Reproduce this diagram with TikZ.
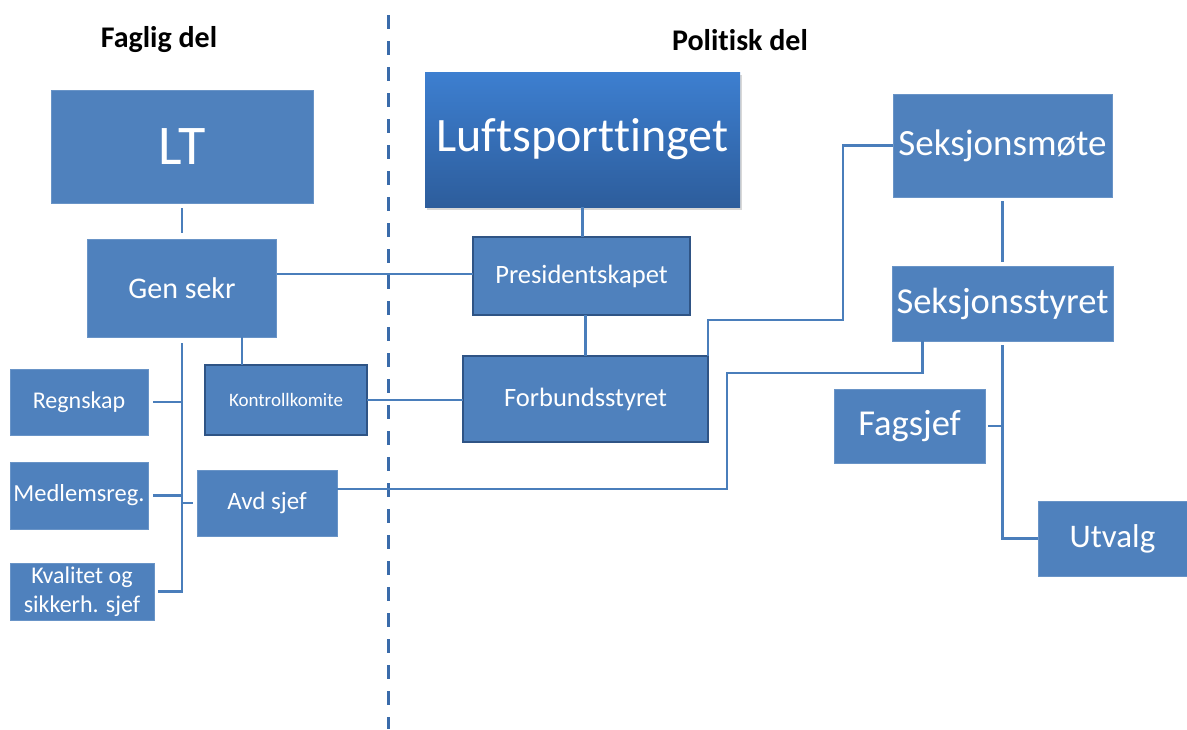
\documentclass[tikz,border=0pt]{standalone}
\usepackage{fontspec}
\setmainfont{Carlito}[Ligatures=NoCommon]
\usetikzlibrary{shadows,calc}
\definecolor{boxblue}{HTML}{4F81BD}
\definecolor{boxedge}{HTML}{2F5485}
\definecolor{linkblue}{HTML}{4A7EBB}
\definecolor{gradtop}{HTML}{3D7FD0}
\definecolor{gradbot}{HTML}{2D5D9C}
\definecolor{dashblue}{HTML}{3A6BAA}
\tikzset{
  box/.style={rectangle, fill=boxblue, draw=boxblue!85!white, line width=0.8pt, text=white, inner sep=0pt, outer sep=0pt, align=center},
  edgebox/.style={box, draw=boxedge, line width=2pt},
  conn/.style={draw=linkblue, line width=2.8pt},
  title/.style={font=\bfseries\fontsize{30}{34}\selectfont, text=black},
  divider/.style={draw=dashblue, line width=3pt, dash pattern=on 14pt off 12pt}
}
\begin{document}
\begin{tikzpicture}[x=1pt,y=-1pt]
\fill[white] (0,0) rectangle (1187,729);
\useasboundingbox (0,0) rectangle (1187,729);

% divider
\draw[divider] (388,15) -- (388,729);

% titles
\node[title] (tf) at (159,40) {Faglig del};
\node[title] (tp) at (740,40) {Politisk del};

% left part
\node[box, minimum width=262pt, minimum height=113pt, font=\fontsize{56}{60}\selectfont] (LT) at (182,146.5) {LT};
\node[box, minimum width=189pt, minimum height=98pt, font=\fontsize{30}{36}\selectfont] (GS) at (182,288) {Gen sekr};
\node[box, minimum width=138pt, minimum height=66pt, font=\fontsize{24}{28}\selectfont] (Reg) at (79,402) {Regnskap};
\node[box, minimum width=138pt, minimum height=67pt, font=\fontsize{24.5}{28}\selectfont] (Med) at (79,495.5) {Medlemsreg.};
\node[box, minimum width=144pt, minimum height=57pt, font=\fontsize{24}{29}\selectfont] (Kval) at (82,591.5) {Kvalitet og\\sikkerh. sjef};
\node[edgebox, minimum width=162pt, minimum height=70pt, font=\fontsize{19}{22}\selectfont] (KK) at (286,400) {Kontrollkomite};
\node[box, minimum width=140pt, minimum height=66pt, font=\fontsize{25}{30}\selectfont] (Avd) at (267,503) {Avd sjef};

% middle part
\node[box, top color=gradtop, bottom color=gradbot, draw=none,
      drop shadow={opacity=0.3, shadow xshift=2pt, shadow yshift=-3pt},
      minimum width=315pt, minimum height=135pt, font=\fontsize{48}{54}\selectfont] (Luft) at (582.5,139.5) {Luftsporttinget};
\node[edgebox, minimum width=217pt, minimum height=78pt, font=\fontsize{26.5}{30}\selectfont] (Pres) at (581.5,276) {Presidentskapet};
\node[edgebox, minimum width=245pt, minimum height=86pt, font=\fontsize{26.5}{30}\selectfont] (Forb) at (585.5,399) {Forbundsstyret};

% right part
\node[box, minimum width=219pt, minimum height=103pt, font=\fontsize{37}{42}\selectfont] (Smote) at (1002.5,145.5) {Seksjonsmøte};
\node[box, minimum width=221pt, minimum height=75pt, font=\fontsize{36.5}{42}\selectfont] (Sstyret) at (1002.5,303.5) {Seksjonsstyret};
\node[box, minimum width=151pt, minimum height=74pt, font=\fontsize{36.5}{42}\selectfont] (Fag) at (909.5,426) {Fagsjef};
\node[box, minimum width=149pt, minimum height=75pt, font=\fontsize{33}{38}\selectfont] (Utv) at (1112.5,538.5) {Utvalg};

% helper corners
\coordinate (k1) at (843,320);
\coordinate (k2) at (727,373);

% connectors left
\draw[conn, shorten <=5pt, shorten >=6pt] (LT.south) -- (GS.north);
\draw[conn] ([yshift=14pt]GS.east) -- ([yshift=14pt]GS.east -| Pres.west);
\draw[conn] ([xshift=60pt]GS.south) -- ([xshift=60pt]GS.south |- KK.north);
\draw[conn, shorten <=6pt, shorten >=4pt] (GS.south) |- (Kval.east);
\draw[conn, shorten <=5pt] (Reg.east) -- (Reg.east -| GS.south);
\draw[conn, shorten <=5pt] (Med.east) -- (Med.east -| GS.south);
\draw[conn, shorten >=4pt] (Avd.west -| GS.south) -- (Avd.west);
\draw[conn] (KK.east) -- (KK.east -| Forb.west);

% connectors middle
\draw[conn] (Luft.south) -- (Luft.south |- Pres.north);
\draw[conn] (Forb.north |- Pres.south) -- (Forb.north);
\draw[conn] (Forb.north east) |- (k1) |- (Smote.west);
\draw[conn] ([yshift=14pt]Avd.east) -| (k2) -| ([xshift=-80pt]Sstyret.south);

% connectors right
\draw[conn, shorten <=4pt, shorten >=4pt] (Smote.south) -- (Sstyret.north);
\draw[conn, shorten <=4pt] (Sstyret.south) |- (Utv.west);
\draw[conn, shorten <=3pt] (Fag.east) -- (Fag.east -| Sstyret.south);
\end{tikzpicture}
\end{document}
